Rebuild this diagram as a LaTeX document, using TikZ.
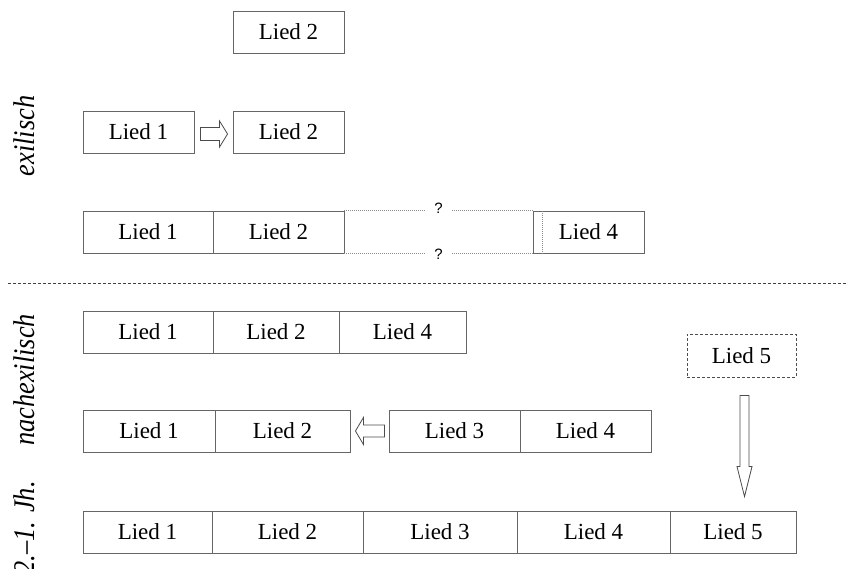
\documentclass[tikz,border=0pt]{standalone}
\usepackage{graphicx}
\usepackage{fontspec}
\setmainfont{Liberation Serif}
\newfontfamily\qfont{Liberation Sans}
\usetikzlibrary{calc}
\newcommand{\narrow}[1]{\scalebox{0.88}[1]{#1}}
\begin{document}
\begin{tikzpicture}[x=1pt,y=-1pt,
  lied/.style={draw=black!60, line width=0.9pt, minimum height=42pt, inner sep=0pt,
    font=\fontsize{23}{25}\selectfont},
  newsong/.style={lied, dash pattern=on 3pt off 2pt, draw=black!70},
  period/.style={rotate=90, inner sep=0pt, font=\fontsize{30}{32}\selectfont\itshape},
  blockarrow/.style={draw=black!70, line width=0.8pt, fill=white, line join=miter},
  gapline/.style={draw=black!45, line width=0.6pt, dash pattern=on 1pt off 1pt},
  qmark/.style={inner xsep=9pt, inner ysep=1pt, font=\qfont\fontsize{15}{16}\selectfont},
  epochline/.style={draw=black!75, line width=0.7pt, dash pattern=on 3pt off 2pt},
]
\useasboundingbox (0,0) rectangle (848,568);

% period labels
\node[period, anchor=base] (p1) at (34,136) {\narrow{exilisch}};
\node[period, anchor=base] (p2) at (34,380) {\narrow{nachexilisch}};
\node[period, anchor=base east] (p3) at (34,481) {\narrow{2.–1. Jh.}};

% Lied 2 alone
\node[lied, minimum width=111pt] (t2) at (288.5,32) {Lied 2};

% Lied 1 joined to Lied 2
\node[lied, minimum width=111pt] (a1) at (138.5,132) {Lied 1};
\node[lied, minimum width=111pt] (a2) at (288.5,132) {Lied 2};
\coordinate (r1s) at ($(a1.east)+(6,2)$);
\coordinate (r1t) at ($(a2.west)+(-5,2)$);
\draw[blockarrow] ($(r1s)+(0,-6.5)$) -- ($(r1t)+(-8,-6.5)$) -- ($(r1t)+(-8,-13)$)
  -- (r1t) -- ($(r1t)+(-8,13)$) -- ($(r1t)+(-8,6.5)$) -- ($(r1s)+(0,6.5)$) -- cycle;

% Lied 1-2 ... Lied 4
\node[lied, minimum width=130pt] (b1) at (148,232) {Lied 1};
\node[lied, minimum width=131pt] (b2) at (278.5,232) {Lied 2};
\node[lied, minimum width=111pt] (b4) at (588.5,232) {Lied 4};
\coordinate (b4in) at ($(b4.north west)+(10,0)$);
\coordinate (b4inb) at ($(b4.south west)+(10,0)$);
\draw[gapline] (b4in) -- (b4inb);
\node[qmark] (q1) at ($(b2.north east)!0.5!(b4.north west)+(0,-2)$) {?};
\node[qmark] (q2) at ($(b2.south east)!0.5!(b4.south west)+(0,1)$) {?};
\draw[gapline] (b2.north east) -- (b2.north east -| q1.west) (b4.north west -| q1.east) -- (b4.north west);
\draw[gapline] (b2.south east) -- (b2.south east -| q2.west) (b4.south west -| q2.east) -- (b4.south west);

% epoch boundary
\coordinate (sepL) at (8,283);
\coordinate (sepR) at (848,283);
\draw[epochline] (sepL) -- (sepR);

% Lied 1-2-4
\node[lied, minimum width=130pt] (c1) at (148,332) {Lied 1};
\node[lied, minimum width=126pt] (c2) at (276,332) {Lied 2};
\node[lied, minimum width=127pt] (c4) at (402.5,332) {Lied 4};

% Lied 5 added later
\node[newsong, minimum width=109pt, minimum height=43pt] (n5) at (741.5,355.5) {Lied 5};

% Lied 1-2 <= Lied 3-4
\node[lied, minimum width=132pt] (d1) at (149,431) {Lied 1};
\node[lied, minimum width=135pt] (d2) at (282.5,431) {Lied 2};
\node[lied, minimum width=131pt] (d3) at (454.5,431) {Lied 3};
\node[lied, minimum width=131pt] (d4) at (585.5,431) {Lied 4};
\coordinate (l1s) at ($(d3.west)+(-4,0)$);
\coordinate (l1t) at ($(d2.east)+(5,0)$);
\draw[blockarrow] ($(l1s)+(0,-6)$) -- ($(l1t)+(8,-6)$) -- ($(l1t)+(8,-13.5)$)
  -- (l1t) -- ($(l1t)+(8,13.5)$) -- ($(l1t)+(8,6)$) -- ($(l1s)+(0,6)$) -- cycle;

% final collection
\node[lied, minimum width=129pt] (e1) at (147.5,532) {Lied 1};
\node[lied, minimum width=151pt] (e2) at (287.5,532) {Lied 2};
\node[lied, minimum width=154pt] (e3) at (440,532) {Lied 3};
\node[lied, minimum width=153pt] (e4) at (593.5,532) {Lied 4};
\node[lied, minimum width=126pt] (e5) at (733,532) {Lied 5};

\coordinate (v1s) at ($(n5.south)+(3,18)$);
\coordinate (v1t) at ($(e5.north)+(11.5,-14)$);
\draw[blockarrow] ($(v1s)+(-4.5,0)$) -- ($(v1t)+(-4.5,-30)$) -- ($(v1t)+(-7.5,-30)$)
  -- (v1t) -- ($(v1t)+(7.5,-30)$) -- ($(v1t)+(4.5,-30)$) -- ($(v1s)+(4.5,0)$) -- cycle;
\end{tikzpicture}
\end{document}
